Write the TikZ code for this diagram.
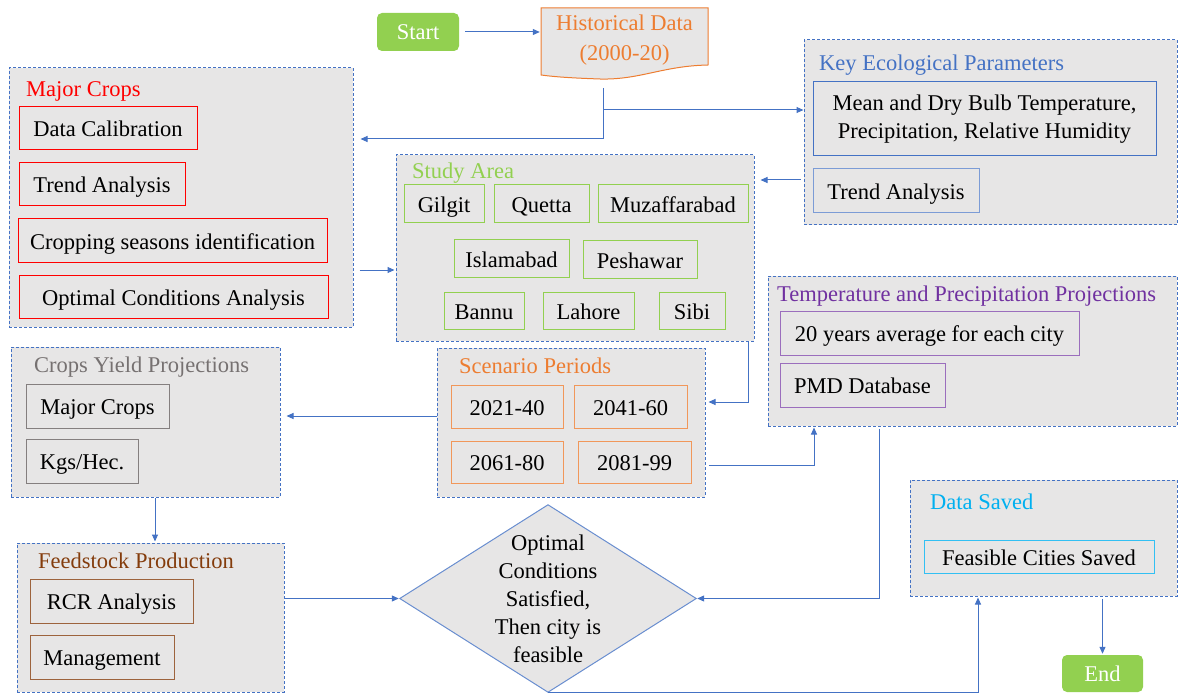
\documentclass[tikz,border=0pt]{standalone}
\usepackage{fontspec}
\setmainfont{Liberation Serif}
\usepackage{tikz}
\usetikzlibrary{arrows.meta}
\usetikzlibrary{backgrounds}

\definecolor{boxgray}{HTML}{E7E6E6}
\definecolor{dashblue}{HTML}{4472C4}
\definecolor{linkblue}{HTML}{4472C4}
\definecolor{startgreen}{HTML}{92D050}
\definecolor{cropred}{HTML}{FF0000}
\definecolor{historange}{HTML}{ED7D31}
\definecolor{areagreen}{HTML}{92D050}
\definecolor{keyblue}{HTML}{4472C4}
\definecolor{projpurple}{HTML}{7030A0}
\definecolor{feedbrown}{HTML}{843C0C}
\definecolor{savedcyan}{HTML}{00B0F0}
\definecolor{yieldgray}{HTML}{767171}

\tikzset{
  txt/.style={font=\fontsize{22.5}{28}\selectfont},
  groupbox/.style={fill=boxgray, draw=dashblue, line width=1pt, dash pattern=on 3pt off 2pt, inner sep=0pt},
  cellbox/.style={txt, fill=boxgray, draw=#1, line width=1pt, inner sep=0pt},
  itembox/.style={cellbox=#1, minimum height=43pt, text height=19pt, text depth=2pt},
  headtext/.style={txt, text=#1, anchor=base west, inner sep=0pt},
  termbox/.style={txt, fill=startgreen, text=white, rounded corners=5pt, inner sep=0pt, text height=15pt, text depth=0pt},
  linkarrow/.style={draw=linkblue, line width=1pt, -{Triangle[length=7pt,width=6pt]}, shorten <=2pt, shorten >=1pt},
}

\begin{document}
\begin{tikzpicture}[x=1pt, y=-1pt]
  \useasboundingbox (0,0) rectangle (1178,695);

  \node[termbox, minimum width=82pt, minimum height=38pt] (start) at (418,32) {Start};
  \filldraw[fill=boxgray, draw=historange, line width=1pt]
  (541,8) -- (708,8) -- (708,65) .. controls (662,66) and (640,80) .. (600,79)
  .. controls (572,78) and (556,77) .. (541,75) -- cycle;
  \node[txt, text=historange, align=center, minimum width=167pt, inner sep=0pt,
  font=\fontsize{22.5}{30}\selectfont] (hist) at (624.5,40) {Historical Data\\(2000-20)};
  \coordinate (histout) at (603,88);

  \node[groupbox, minimum width=344pt, minimum height=259pt] (crops) at (181,197.5) {};
  \node[headtext=cropred] (cropsT) at (26,97) {Major Crops};
  \node[itembox=cropred, minimum width=178pt] (calib) at (108,128.5) {Data Calibration};
  \node[itembox=cropred, minimum width=166pt] (trend) at (102,184.5) {Trend Analysis};
  \node[itembox=cropred, minimum width=309pt] (season) at (172.5,240.5) {Cropping seasons identification};
  \node[itembox=cropred, minimum width=309pt] (optim) at (173.5,296.5) {Optimal Conditions Analysis};

  \node[groupbox, minimum width=358pt, minimum height=186pt] (study) at (575,248) {};
  \node[headtext=areagreen] (studyT) at (412,179) {Study Area};
  \node[itembox=areagreen, minimum width=80pt, minimum height=38pt] (gilgit) at (444,204) {Gilgit};
  \node[itembox=areagreen, minimum width=95pt, minimum height=38pt] (quetta) at (541.5,204) {Quetta};
  \node[itembox=areagreen, minimum width=150pt, minimum height=38pt] (muzaff) at (673,204) {Muzaffarabad};
  \node[itembox=areagreen, minimum width=115pt, minimum height=37pt] (islamabad) at (511.5,258.5) {Islamabad};
  \node[itembox=areagreen, minimum width=114pt, minimum height=37pt] (peshawar) at (640,259.5) {Peshawar};
  \node[itembox=areagreen, minimum width=80pt, minimum height=37pt] (bannu) at (484,310.5) {Bannu};
  \node[itembox=areagreen, minimum width=91pt, minimum height=37pt] (lahore) at (588.5,310.5) {Lahore};
  \node[itembox=areagreen, minimum width=66pt, minimum height=37pt] (sibi) at (692,310.5) {Sibi};

  \node[groupbox, minimum width=373pt, minimum height=185pt] (key) at (990.5,132.5) {};
  \node[headtext=keyblue] (keyT) at (819,71) {Key Ecological Parameters};
  \node[cellbox=keyblue, minimum width=343pt, minimum height=74pt, align=center] (meteo) at (984.5,119)
  {Mean and Dry Bulb Temperature,\\Precipitation, Relative Humidity};
  \node[itembox=keyblue!70, minimum width=166pt, minimum height=44pt] (ktrend) at (896,191) {Trend Analysis};

  \node[groupbox, minimum width=409pt, minimum height=150pt] (temp) at (972.5,351) {};
  \node[headtext=projpurple] (tempT) at (777,301) {Temperature and Precipitation Projections};
  \node[itembox=projpurple!70, minimum width=299pt, minimum height=44pt] (avg) at (929.5,333) {20 years average for each city};
  \node[itembox=projpurple!70, minimum width=165pt, minimum height=44pt] (pmd) at (862.5,385) {PMD Database};

  \node[groupbox, minimum width=268pt, minimum height=149pt] (scen) at (571,422.5) {};
  \node[headtext=historange] (scenT) at (459,373) {Scenario Periods};
  \node[itembox=historange!80, minimum width=112pt] (p1) at (507,406.5) {2021-40};
  \node[itembox=historange!80, minimum width=113pt] (p2) at (630.5,406.5) {2041-60};
  \node[itembox=historange!80, minimum width=112pt, minimum height=42pt] (p3) at (507,462) {2061-80};
  \node[itembox=historange!80, minimum width=113pt, minimum height=42pt] (p4) at (634.5,462) {2081-99};

  \node[groupbox, minimum width=269pt, minimum height=150pt] (yield) at (145.5,422) {};
  \node[headtext=yieldgray] (yieldT) at (34,372) {Crops Yield Projections};
  \node[itembox=yieldgray!90, minimum width=143pt, minimum height=44pt] (ycrops) at (97.5,406) {Major Crops};
  \node[itembox=yieldgray!90, minimum width=112pt, minimum height=44pt] (yunit) at (82,461) {Kgs/Hec.};

  \node[groupbox, minimum width=267pt, minimum height=149pt] (feed) at (150.5,617.5) {};
  \node[headtext=feedbrown] (feedT) at (38,568) {Feedstock Production};
  \node[itembox=feedbrown!80, minimum width=163pt, minimum height=44pt] (rcr) at (111.5,601) {RCR Analysis};
  \node[itembox=feedbrown!80, minimum width=144pt, minimum height=44pt] (manage) at (102,657) {Management};

  \node[txt, align=center, minimum width=296pt, minimum height=187pt, inner sep=0pt] (cond) at (548,598.5)
  {Optimal\\Conditions\\Satisfied,\\Then city is\\feasible};
  \begin{scope}[on background layer]
    \filldraw[fill=boxgray, draw=dashblue!80, line width=1pt]
    (cond.north) -- (cond.east) -- (cond.south) -- (cond.west) -- cycle;
  \end{scope}

  \node[groupbox, minimum width=267pt, minimum height=116pt] (saved) at (1043.5,538) {};
  \node[headtext=savedcyan] (savedT) at (930,509) {Data Saved};
  \node[itembox=savedcyan!80, minimum width=230pt, minimum height=33pt] (feasible) at (1039,556.5) {Feasible Cities Saved};
  \node[termbox, minimum width=81pt, minimum height=37pt] (finish) at (1102.5,673.5) {End};

  \draw[linkarrow, shorten <=6pt] (start.east) -- (start.east -| hist.west);
  \draw[linkarrow, shorten <=0pt, shorten >=7pt] (histout) |- (crops.east |- 0,139);
  \draw[linkarrow, shorten <=0pt, shorten >=0pt] (histout |- 0,110) -- (key.west |- 0,110);
  \draw[linkarrow, shorten <=6pt] (crops.east |- 0,270) -- (study.west |- 0,270);
  \draw[linkarrow, shorten <=3pt, shorten >=6pt] (key.west |- 0,180) -- (study.east |- 0,180);
  \draw[linkarrow, shorten <=0pt, shorten >=3pt] (study.south -| 748,0) |- (scen.east |- 0,402);
  \draw[linkarrow, shorten <=0pt, shorten >=6pt] (scen.west |- 0,416) -- (yield.east |- 0,416);
  \draw[linkarrow, shorten <=3pt] (scen.east |- 0,465) -| (temp.south -| 814,0);
  \draw[linkarrow, shorten <=0pt] (yield.south -| 155,0) -- (feed.north -| 155,0);
  \draw[linkarrow, shorten <=0pt] (feed.east |- cond) -- (cond.west);
  \draw[linkarrow] (temp.south -| 879,0) |- (cond.east);
  \draw[linkarrow, shorten <=0pt] (cond.south) -| (saved.south -| 978,0);
  \draw[linkarrow] (saved.south -| finish) -- (finish.north);
\end{tikzpicture}
\end{document}
